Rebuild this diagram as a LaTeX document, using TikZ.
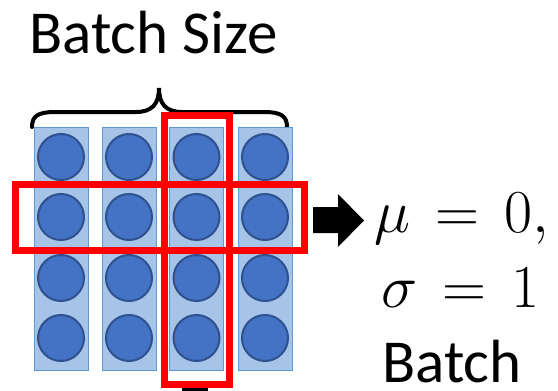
\RequirePackage{fix-cm}
\documentclass[tikz,border=0pt]{standalone}
\usepackage[no-math]{fontspec}
\setmainfont{Carlito}
\definecolor{dotfill}{HTML}{4472C4}
\definecolor{dotline}{HTML}{2F528F}
\definecolor{colfill}{HTML}{A6C3E8}
\definecolor{colline}{HTML}{5B9BD5}
\definecolor{redbox}{HTML}{FF0000}
\tikzset{
  colbox/.style={draw=colline, line width=1pt, fill=colfill, rectangle, inner sep=0pt, minimum width=54pt, minimum height=243pt},
  dot/.style={draw=dotline, line width=2pt, fill=dotfill, circle, inner sep=0pt, minimum size=46pt},
  redframe/.style={draw=redbox, line width=7pt, rectangle, inner sep=0pt},
  bigtext/.style={inner sep=0pt, font=\fontsize{61}{70}\selectfont},
}
\begin{document}
\begin{tikzpicture}[x=1pt,y=-1pt]
\useasboundingbox (0,0) rectangle (558,391);
% title
\node[bigtext, anchor=base west] (title) at (29,53) {Batch Size};
% brace
\draw[line width=4pt, line cap=round] (32,127) .. controls (32,116) and (38,112) .. (55,112) -- (136,112) .. controls (152,112) and (159,104) .. (159,88)
  .. controls (159,104) and (166,112) .. (182,112) -- (264,112) .. controls (281,112) and (287,116) .. (287,127);
% columns and dots
\foreach \c/\x in {1/61,2/129,3/196.5,4/265}{
  \node[colbox] (col\c) at (\x,248.5) {};
  \foreach \r/\y in {1/157,2/217,3/278,4/338}{
    \node[dot] (d\c\r) at (\x,\y) {};
  }
}
% red frames
\node[redframe, minimum width=289pt, minimum height=66pt] (rowframe) at (160,217.5) {};
\node[redframe, minimum width=65pt, minimum height=269pt] (colframe) at (197,250) {};
% arrow
\fill (313,207) -- (338,207) -- (338,194) -- (364,220.5) -- (338,247) -- (338,233) -- (313,233) -- cycle;
% cut-off mark at bottom
\fill (182,388) rectangle (208,392);
% statistics text
\node[bigtext, anchor=base west] (mu) at (374,232) {$\mu \mskip2.5mu = \mskip2.5mu 0,$};
\node[bigtext, anchor=base west] (sigma) at (381,307) {$\sigma \mskip2.5mu = \mskip2.5mu 1$};
\node[bigtext, anchor=base west] (batch) at (382,382) {Batch};
\end{tikzpicture}
\end{document}
